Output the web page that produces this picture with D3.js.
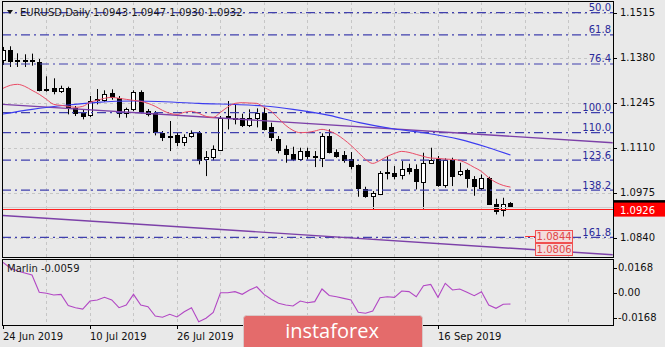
<!DOCTYPE html>
<html><head><meta charset="utf-8">
<script src="https://cdn.jsdelivr.net/npm/d3@7/dist/d3.min.js"></script>
<style>html,body{margin:0;padding:0;background:#e9e9e9;overflow:hidden}svg{display:block}</style>
</head><body>
<svg id="c" width="665" height="347"></svg>
<script>
// ---------- data ----------
const symbolTitle = "EURUSD,Daily";
const ohlcTitle = "1.0943 1.0947 1.0930 1.0932";
const openP = [
 1.1372,1.1402,1.1369,1.1372,1.1370,1.1368,1.1285,1.1290,1.1280,1.1288,
 1.1228,1.1215,1.1207,1.1252,1.1255,1.1273,1.1260,1.1212,1.1225,1.1276,
 1.1219,1.1213,1.1153,1.1140,1.1147,1.1127,1.1145,1.1155,1.1075,1.1083,
 1.1105,1.1205,1.1196,1.1200,1.1180,1.1200,1.1215,1.1173,1.1137,1.1107,
 1.1090,1.1077,1.1100,1.1085,1.1080,1.1145,1.1098,1.1089,1.1077,1.1057,
 1.0987,1.0967,1.0973,1.1033,1.1034,1.1027,1.1048,1.1045,1.1008,1.1065,
 1.1075,1.0997,1.1073,1.1030,1.1042,1.1017,1.0990,1.1020,1.0942,1.0922,
 1.0943];
const highP = [
 1.1412,1.1414,1.1393,1.1390,1.1392,1.1376,1.1324,1.1318,1.1296,1.1293,
 1.1235,1.1225,1.1265,1.1286,1.1282,1.1285,1.1265,1.1230,1.1282,1.1282,
 1.1226,1.1220,1.1160,1.1190,1.1155,1.1150,1.1162,1.1160,1.1100,1.1117,
 1.1205,1.1250,1.1240,1.1212,1.1225,1.1228,1.1232,1.1185,1.1145,1.1117,
 1.1113,1.1110,1.1110,1.1100,1.1153,1.1165,1.1105,1.1100,1.1097,1.1060,
 1.0993,1.0980,1.1040,1.1085,1.1055,1.1070,1.1062,1.1060,1.1095,1.1110,
 1.1085,1.1078,1.1080,1.1065,1.1047,1.1025,1.1030,1.1023,1.0957,1.0960,
 1.0947];
const lowP = [
 1.1358,1.1352,1.1352,1.1352,1.1356,1.1279,1.1278,1.1270,1.1274,1.1210,
 1.1205,1.1195,1.1202,1.1240,1.1248,1.1254,1.1200,1.1200,1.1220,1.1213,
 1.1204,1.1147,1.1130,1.1100,1.1115,1.1115,1.1140,1.1060,1.1025,1.1072,
 1.1100,1.1165,1.1180,1.1172,1.1172,1.1171,1.1162,1.1130,1.1093,1.1065,
 1.1070,1.1070,1.1075,1.1052,1.1052,1.1093,1.1080,1.1065,1.1045,1.0963,
 1.0960,1.0926,1.0968,1.1015,1.1015,1.1015,1.1030,1.0985,1.0927,1.1063,
 1.0993,1.0990,1.0995,1.1025,1.0990,1.0966,1.0983,1.0939,1.0910,1.0904,
 1.0930];
const closeP = [
 1.1402,1.1368,1.1372,1.1370,1.1373,1.1285,1.1287,1.1280,1.1290,1.1230,
 1.1212,1.1207,1.1250,1.1255,1.1272,1.1260,1.1214,1.1225,1.1276,1.1219,
 1.1209,1.1155,1.1140,1.1144,1.1125,1.1143,1.1155,1.1075,1.1082,1.1107,
 1.1200,1.1198,1.1199,1.1180,1.1200,1.1215,1.1167,1.1143,1.1105,1.1092,
 1.1075,1.1100,1.1085,1.1081,1.1145,1.1097,1.1087,1.1073,1.1055,1.0987,
 1.0967,1.0975,1.1035,1.1036,1.1025,1.1045,1.1040,1.1010,1.1065,1.1073,
 1.0997,1.1073,1.1025,1.1040,1.1017,1.0995,1.1020,1.0942,1.0922,1.0940,
 1.0932];
// fast moving average (red), one value per bar
const maFast = [
 1.1288,1.1297,1.1300,1.1294,1.1282,1.1270,1.1255,1.1240,1.1237,1.1234,
 1.1231,1.1234,1.1246,1.1252,1.1258,1.1261,1.1258,1.1255,1.1252,1.1249,
 1.1243,1.1234,1.1222,1.1213,1.1210,1.1216,1.1219,1.1213,1.1204,1.1201,
 1.1216,1.1232,1.1243,1.1245,1.1244,1.1243,1.1231,1.1219,1.1198,1.1177,
 1.1162,1.1155,1.1156,1.1160,1.1165,1.1160,1.1150,1.1135,1.1117,1.1096,
 1.1075,1.1063,1.1072,1.1084,1.1093,1.1099,1.1096,1.1090,1.1084,1.1079,
 1.1078,1.1076,1.1075,1.1072,1.1063,1.1051,1.1039,1.1020,1.1006,1.0997,
 1.0992];
// slow moving average (blue), read at these bars
const maSlowIdx = [0,4,9,13,18,27,36,40,45,49,54,58,63,67,70];
const maSlow = [1.1211,1.1225,1.1238,1.1246,1.1250,1.1243,1.1235,1.1225,1.1207,1.1186,1.1166,1.1155,1.1135,1.1110,1.1088];
// trend lines (purple): value at first and last bar index
const trendIdx = [0, 84.1];
const trendUpper = [1.1240, 1.1125];
const trendLower = [1.0907, 1.0789];
// Fibonacci levels
const fibLabels = ["50.0","61.8","76.4","100.0","110.0","123.6","138.2","161.8"];
const fibPrices = [1.1515,1.1448,1.1361,1.1215,1.1155,1.1073,1.0983,1.0841];
// horizontal line / price tags
const supportPrice = 1.0926;
const bidPrice = 1.0932;
const tagPrices = [1.0844, 1.0806];
const tagLabels = ["1.0844", "1.0806"];
const tagIdx = [73.4, 78.5];
// axes (labels hidden under the badge in the reference are omitted)
const priceTicks = [1.1515, 1.1380, 1.1245, 1.1110, 1.0975, 1.0840];
const dateTickIdx = [0, 12, 24, 60];
const dateTickLabels = ["24 Jun 2019","10 Jul 2019","26 Jul 2019","16 Sep 2019"];
// indicator panel
const marlinName = "Marlin";
const marlinLast = "-0.0059";
const marlin = [
 0.0204,0.0166,0.0146,0.0132,0.0119,0.0003,-0.0004,-0.0015,-0.0011,-0.0087,
 -0.0101,-0.0110,-0.0056,-0.0049,-0.0031,-0.0049,-0.0101,-0.0083,-0.0011,-0.0083,
 -0.0094,-0.0157,-0.0165,-0.0145,-0.0163,-0.0128,-0.0101,-0.0195,-0.0172,-0.0132,
 0.0000,0.0000,0.0007,-0.0011,0.0018,0.0040,-0.0011,-0.0044,-0.0071,-0.0083,
 -0.0089,-0.0056,-0.0067,-0.0060,0.0025,-0.0019,-0.0027,-0.0038,-0.0049,-0.0132,
 -0.0138,-0.0123,-0.0034,-0.0027,-0.0031,0.0011,0.0007,-0.0027,0.0047,0.0056,
 -0.0031,0.0063,0.0018,0.0025,0.0003,-0.0020,0.0007,-0.0083,-0.0105,-0.0078,
 -0.0076];
const marlinTicks = [0.0168, 0, -0.0168];
const marlinTickLabels = ["0.0168", "0.00", "-0.0168"];
const brand = "instaforex";

// ---------- drawing ----------
const FONT = "DejaVu Sans, Verdana, sans-serif";
const svg = d3.select("#c");
const P = {l: 2, r: 613, t: 2, b: 257};
const Q = {t: 259, b: 325};
const x = d3.scaleLinear().domain([0, 84.14]).range([3, 613]);
const y = d3.scaleLinear().domain([1.0840, 1.1515]).range([237.8, 12.6]);
const ym = d3.scaleLinear().domain([-0.0168, 0.0168]).range([317.7, 267.7]);
const px = v => Math.round(v) + 0.5;

svg.append("rect").attr("width", 665).attr("height", 347).attr("fill", "#e9e9e9");

const defs = svg.append("defs");
defs.append("clipPath").attr("id", "cm").append("rect")
  .attr("x", P.l + 0.5).attr("y", P.t + 0.5).attr("width", P.r - P.l).attr("height", P.b - P.t);
defs.append("clipPath").attr("id", "cp").append("rect")
  .attr("x", P.l + 0.5).attr("y", Q.t + 0.5).attr("width", P.r - P.l).attr("height", Q.b - Q.t);

const main = svg.append("g").attr("clip-path", "url(#cm)");
const pan = svg.append("g").attr("clip-path", "url(#cp)");

// grid
const gridIdx = d3.range(6, 84, 6);
main.selectAll(".vg").data(gridIdx).join("line")
  .attr("x1", d => px(x(d))).attr("x2", d => px(x(d)))
  .attr("y1", P.t).attr("y2", P.b)
  .attr("stroke", "#c6c6c6").attr("stroke-dasharray", "3,3");
main.selectAll(".hg").data(priceTicks).join("line")
  .attr("x1", P.l).attr("x2", P.r)
  .attr("y1", d => px(y(d))).attr("y2", d => px(y(d)))
  .attr("stroke", "#c6c6c6").attr("stroke-dasharray", "3,3");
pan.selectAll(".vg").data(gridIdx).join("line")
  .attr("x1", d => px(x(d))).attr("x2", d => px(x(d)))
  .attr("y1", Q.t).attr("y2", Q.b)
  .attr("stroke", "#c6c6c6").attr("stroke-dasharray", "3,3");

// title
svg.append("path").attr("d", "M7,10 L13,10 L10,14 Z").attr("fill", "#111");
svg.append("text").attr("x", 20).attr("y", 16).attr("font-family", FONT).attr("font-size", 10)
  .attr("fill", "#1a1a1a").text(symbolTitle);
svg.append("text").attr("x", 93).attr("y", 16).attr("font-family", FONT).attr("font-size", 10)
  .attr("fill", "#1a1a1a").text(ohlcTitle);

// candles
const idx = d3.range(openP.length);
main.selectAll(".wick").data(idx).join("line")
  .attr("x1", i => px(x(i))).attr("x2", i => px(x(i)))
  .attr("y1", i => y(highP[i])).attr("y2", i => y(lowP[i]))
  .attr("stroke", "#000").attr("stroke-width", 1);
main.selectAll(".body").data(idx).join("rect")
  .attr("x", i => Math.round(x(i)) - 2 + 0.5)
  .attr("width", 4)
  .attr("y", i => Math.round(y(Math.max(openP[i], closeP[i]))) + 0.5)
  .attr("height", i => Math.max(1, Math.round(Math.abs(y(openP[i]) - y(closeP[i])))))
  .attr("fill", i => closeP[i] >= openP[i] ? "#fff" : "#000")
  .attr("stroke", "#000").attr("stroke-width", 1);

// fib lines
main.selectAll(".fib").data(fibPrices).join("line")
  .attr("x1", P.l).attr("x2", P.r)
  .attr("y1", d => y(d)).attr("y2", d => y(d))
  .attr("stroke", "#4040ae").attr("stroke-width", 1.2)
  .attr("stroke-dasharray", "9,4,2,4");
main.selectAll(".fibt").data(fibPrices).join("text")
  .attr("x", 611).attr("y", d => y(d) - 1.5)
  .attr("text-anchor", "end").attr("font-family", FONT).attr("font-size", 10)
  .attr("fill", "#2a2a9a").text((d, i) => fibLabels[i]);

// trend lines
[trendUpper, trendLower].forEach(t => {
  main.append("path")
    .attr("d", d3.line().x((d, i) => x(trendIdx[i])).y(d => y(d))(t))
    .attr("fill", "none").attr("stroke", "#7c40a8").attr("stroke-width", 1.4);
});

// bid and support lines
main.append("line").attr("x1", P.l).attr("x2", P.r)
  .attr("y1", px(y(bidPrice))).attr("y2", px(y(bidPrice)))
  .attr("stroke", "#cfcfcf").attr("stroke-width", 1);
main.append("line").attr("x1", P.l).attr("x2", P.r)
  .attr("y1", px(y(supportPrice))).attr("y2", px(y(supportPrice)))
  .attr("stroke", "#ff2020").attr("stroke-width", 1);

// moving averages
main.append("path")
  .attr("d", d3.line().x((d, i) => x(maSlowIdx[i])).y(d => y(d)).curve(d3.curveMonotoneX)(maSlow))
  .attr("fill", "none").attr("stroke", "#3c3cf0").attr("stroke-width", 1.1);
main.append("path")
  .attr("d", d3.line().x((d, i) => x(i)).y(d => y(d)).curve(d3.curveMonotoneX)(maFast))
  .attr("fill", "none").attr("stroke", "#ea4c66").attr("stroke-width", 1);

// price tags
main.append("line").attr("x1", x(tagIdx[0]) - 10).attr("x2", x(tagIdx[0]))
  .attr("y1", px(y(tagPrices[0]))).attr("y2", px(y(tagPrices[0])))
  .attr("stroke", "#ff3030");
tagPrices.forEach((p, i) => {
  const g = main.append("g");
  g.append("rect")
    .attr("x", px(x(tagIdx[0]))).attr("width", Math.round(x(tagIdx[1]) - x(tagIdx[0])))
    .attr("y", Math.round(y(p)) - 6 + 0.5).attr("height", 12)
    .attr("fill", "#f4dcdc").attr("stroke", "#f05050");
  g.append("text").attr("x", (x(tagIdx[0]) + x(tagIdx[1])) / 2 + 0.5).attr("y", y(p) + 4)
    .attr("text-anchor", "middle").attr("font-family", FONT).attr("font-size", 10)
    .attr("fill", "#e04848").text(tagLabels[i]);
});

// marlin panel
pan.append("path")
  .attr("d", d3.line().x((d, i) => x(i)).y(d => ym(d))(marlin))
  .attr("fill", "none").attr("stroke", "#b248c4").attr("stroke-width", 1.1);
svg.append("text").attr("x", 7).attr("y", 271.5).attr("font-family", FONT).attr("font-size", 10)
  .attr("fill", "#1a1a1a").text(marlinName + " " + marlinLast);

// borders
svg.append("rect").attr("x", P.l + 0.5).attr("y", P.t - 0.5).attr("width", P.r - P.l).attr("height", P.b - P.t + 1)
  .attr("fill", "none").attr("stroke", "#000");
svg.append("rect").attr("x", P.l + 0.5).attr("y", Q.t + 0.5).attr("width", P.r - P.l).attr("height", Q.b - Q.t)
  .attr("fill", "none").attr("stroke", "#000");

// price axis
const ax = svg.append("g");
ax.selectAll(".pt").data(priceTicks).join("line")
  .attr("x1", P.r + 0.5).attr("x2", P.r + 4).attr("y1", d => px(y(d))).attr("y2", d => px(y(d)))
  .attr("stroke", "#000");
ax.selectAll(".pl").data(priceTicks).join("text")
  .attr("x", 620).attr("y", d => y(d) + 3.5)
  .attr("font-family", FONT).attr("font-size", 10).attr("fill", "#111")
  .text(d => d.toFixed(4));
// bid tag (black) and support tag (red)
ax.append("rect").attr("x", P.r + 1).attr("width", 665 - P.r).attr("y", y(bidPrice) - 7).attr("height", 14).attr("fill", "#000");
ax.append("rect").attr("x", P.r + 1).attr("width", 665 - P.r).attr("y", y(supportPrice) - 6.5).attr("height", 14).attr("fill", "#ff0000");
ax.append("text").attr("x", 620).attr("y", y(supportPrice) + 4.5)
  .attr("font-family", FONT).attr("font-size", 10).attr("fill", "#fff").text(supportPrice.toFixed(4));

// marlin axis
ax.selectAll(".mt").data(marlinTicks).join("line")
  .attr("x1", P.r + 0.5).attr("x2", P.r + 4).attr("y1", d => px(ym(d))).attr("y2", d => px(ym(d)))
  .attr("stroke", "#000");
ax.selectAll(".ml").data(marlinTicks).join("text")
  .attr("x", 618).attr("y", d => ym(d) + 3.5)
  .attr("font-family", FONT).attr("font-size", 10).attr("fill", "#111")
  .text((d, i) => marlinTickLabels[i]);

// date axis
ax.selectAll(".dt").data(dateTickIdx).join("line")
  .attr("x1", d => px(x(d))).attr("x2", d => px(x(d))).attr("y1", Q.b + 0.5).attr("y2", Q.b + 4)
  .attr("stroke", "#000");
ax.selectAll(".dl").data(dateTickIdx).join("text")
  .attr("x", d => x(d)).attr("y", 340)
  .attr("font-family", FONT).attr("font-size", 10).attr("fill", "#111")
  .text((d, i) => dateTickLabels[i]);

// brand badge
svg.append("rect").attr("x", 243.5).attr("y", 315.5).attr("width", 179).attr("height", 36).attr("rx", 3)
  .attr("fill", "#e46b6b").attr("stroke", "#d8c8c8");
svg.append("text").attr("x", 332).attr("y", 337.5).attr("text-anchor", "middle")
  .attr("font-family", "Open Sans, sans-serif").attr("font-size", 20).attr("fill", "#fff").text(brand);
</script>
</body></html>
